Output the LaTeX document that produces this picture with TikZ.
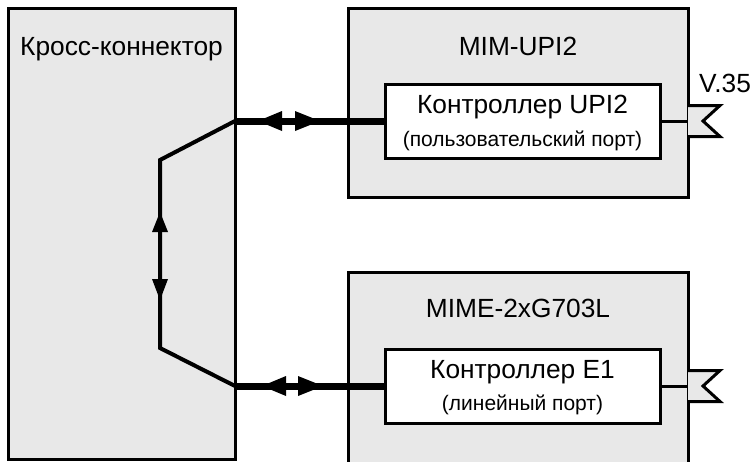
\documentclass[tikz,border=0pt]{standalone}
\usepackage{fontspec}
\setmainfont{Liberation Sans}
\definecolor{boxgray}{RGB}{232,232,232}
\tikzset{
  block/.style={draw=black, line width=3pt, fill=boxgray, anchor=north west, inner sep=0pt, outer sep=0pt},
  ctrlbox/.style={draw=black, line width=3pt, fill=white, anchor=north west, inner sep=0pt, outer sep=0pt},
  bigtext/.style={font=\fontsize{26.3}{30}\selectfont, inner sep=0pt, anchor=base},
  smalltext/.style={font=\fontsize{21}{25}\selectfont, inner sep=0pt, anchor=base},
  heavyline/.style={line width=7pt},
  thinline/.style={line width=4pt, line cap=round},
  portline/.style={line width=3pt},
  flagshape/.style={draw=black, fill=boxgray, line width=3pt, line join=miter},
  headfill/.style={fill=black},
}
\begin{document}
\begin{tikzpicture}[x=1pt,y=-1pt]
  \useasboundingbox (0,0) rectangle (755,461);
  \clip (0,0) rectangle (755,461);
  % boxes
  \node[block, minimum width=227pt, minimum height=451pt] (cc) at (8,8) {};
  \node[block, minimum width=340pt, minimum height=189pt] (mim) at (348,8) {};
  \node[block, minimum width=340pt, minimum height=210pt] (mime) at (348,272) {};
  \node[ctrlbox, minimum width=275pt, minimum height=74pt] (uctrl) at (385,84) {};
  \node[ctrlbox, minimum width=275pt, minimum height=74pt] (ectrl) at (385,349) {};
  % texts
  \node[bigtext] (cct) at (121.5,55) {Кросс-коннектор};
  \node[bigtext] (mimt) at (518,55) {MIM-UPI2};
  \node[bigtext] (mimet) at (518,317) {MIME-2xG703L};
  \node[bigtext] (uct1) at (522.5,113) {Контроллер UPI2};
  \node[smalltext] (uct2) at (522.5,146) {(пользовательский порт)};
  \node[bigtext] (ect1) at (522.5,378) {Контроллер E1};
  \node[smalltext] (ect2) at (522.5,410) {(линейный порт)};
  \node[bigtext, anchor=base west] (v35) at (699,92) {V.35};
  % coordinates
  \coordinate (j1) at (cc.east |- uctrl.west);
  \coordinate (j2) at (cc.east |- ectrl.west);
  \coordinate (k1) at (160,160);
  \coordinate (k2) at (160,348);
  \coordinate (f1) at (mim.east |- uctrl.east);
  \coordinate (f2) at (mime.east |- ectrl.east);
  % cross-connector internal path
  \draw[thinline] (j1) -- (k1) -- (k2) -- (j2);
  \fill[headfill] ([yshift=-52pt]k1) -- ++(-8,20) -- ++(16,0) -- cycle;
  \fill[headfill] ([yshift=-140pt]k1) -- ++(-8,-21) -- ++(16,0) -- cycle;
  % heavy links
  \draw[heavyline] (j1) -- (uctrl.west);
  \fill[headfill] ([xshift=23pt]j1) -- ++(24,-10) -- ++(0,20) -- cycle;
  \fill[headfill] ([xshift=85pt]j1) -- ++(-25,-10) -- ++(0,20) -- cycle;
  \draw[heavyline] (j2) -- (ectrl.west);
  \fill[headfill] ([xshift=27pt]j2) -- ++(24,-10) -- ++(0,20) -- cycle;
  \fill[headfill] ([xshift=88pt]j2) -- ++(-25,-10) -- ++(0,20) -- cycle;
  % port lines and flags
  \draw[portline] (uctrl.east) -- (f1);
  \draw[portline] (ectrl.east) -- (f2);
  \draw[flagshape] ([yshift=15.5pt]f1) -- ++(32,0) -- ++(-17,15.5) -- ++(17,15.5) -- ++(-32,0);
  \draw[flagshape] ([yshift=15.5pt]f2) -- ++(32,0) -- ++(-17,15.5) -- ++(17,15.5) -- ++(-32,0);
\end{tikzpicture}
\end{document}
